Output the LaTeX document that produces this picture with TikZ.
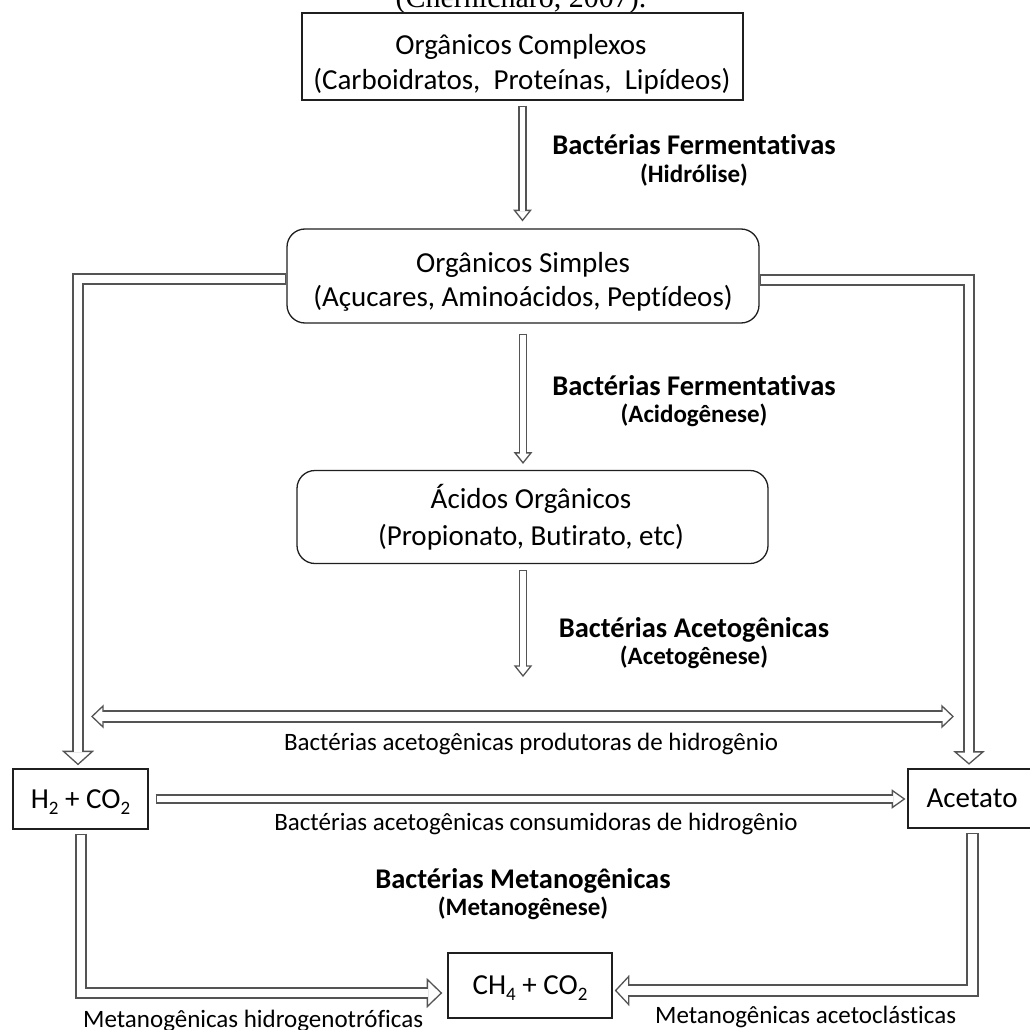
\documentclass[tikz,border=0pt]{standalone}
\usepackage{fontspec}
\setmainfont{Carlito}[Ligatures=NoCommon]
\newfontfamily\capfont{Liberation Serif}
\usetikzlibrary{calc}
\definecolor{ag}{gray}{0.33}
\definecolor{bx}{gray}{0.12}
\pgfdeclarelayer{bg}
\pgfsetlayers{bg,main}
\newcommand\sub[1]{\raisebox{-0.22em}{\fontsize{19}{19}\selectfont #1}}
\tikzset{
  aout/.style={draw=ag, line width=#1+1.3pt, line join=miter},
  ain/.style={draw=white, line width=#1-1.3pt, line join=miter},
  ahead/.style={draw=ag, fill=white, line width=1.3pt, line join=miter},
  box/.style={draw=bx, line width=1.3pt, inner sep=0pt, fill=white},
  rbox/.style={box, rounded corners=18pt},
  sbox/.style={box, font=\fontsize{29}{35}\selectfont, text height=18.7pt, text depth=0.5pt},
  btxt/.style={font=\fontsize{29}{35}\selectfont, anchor=base, inner sep=0pt},
  lbl/.style={font=\bfseries\fontsize{28.5}{30}\selectfont, anchor=base, inner sep=0pt},
  slbl/.style={font=\bfseries\fontsize{25}{28}\selectfont, anchor=base, inner sep=0pt},
  rlbl/.style={font=\fontsize{25}{28}\selectfont, anchor=base, inner sep=0pt},
}
\newcommand\arrD[6]{%
  \draw[aout=#4] (#1) #2 ($(#3)+(0,-#6)$);
  \draw[ahead] (#3) -- ++(-#5,-#6) -- ++({2*#5},0) -- cycle;
  \draw[ain=#4, shorten <=1.3pt, shorten >=-1pt] (#1) #2 ($(#3)+(0,-#6)$);
}
\newcommand\arrR[6]{%
  \draw[aout=#4] (#1) #2 ($(#3)+(-#6,0)$);
  \draw[ahead] (#3) -- ++(-#6,-#5) -- ++(0,{2*#5}) -- cycle;
  \draw[ain=#4, shorten <=1.3pt, shorten >=-1pt] (#1) #2 ($(#3)+(-#6,0)$);
}
\newcommand\arrL[6]{%
  \draw[aout=#4] (#1) #2 ($(#3)+(#6,0)$);
  \draw[ahead] (#3) -- ++(#6,-#5) -- ++(0,{2*#5}) -- cycle;
  \draw[ain=#4, shorten <=1.3pt, shorten >=-1pt] (#1) #2 ($(#3)+(#6,0)$);
}
\begin{document}
\begin{tikzpicture}[x=1pt,y=-1pt]
\useasboundingbox (0,0) rectangle (1030,1030);

% caption (cut off at the top)
\node[font=\capfont\fontsize{30}{32}\selectfont, anchor=base, inner sep=0pt] (cap) at (521,8) {(Chernicharo, 2007).};

% boxes
\node[box, minimum width=441pt, minimum height=87pt] (b1) at (522.5,56.5) {};
\node[btxt] (b1a) at (521,55) {Orgânicos Complexos};
\node[btxt] (b1b) at (522,90) {(Carboidratos,\ \ Proteínas,\ \ Lipídeos)};

\node[rbox, minimum width=472pt, minimum height=94pt] (b2) at (523,276) {};
\node[btxt] (b2a) at (523,272) {Orgânicos Simples};
\node[btxt] (b2b) at (523,306) {(Açucares, Aminoácidos,\ Peptídeos)};

\node[rbox, minimum width=471pt, minimum height=93pt] (b3) at (532.5,517) {};
\node[btxt] (b3a) at (531,508) {Ácidos Orgânicos};
\node[btxt] (b3b) at (531,545) {(Propionato, Butirato, etc)};

\node[sbox, minimum width=135pt, minimum height=60pt] (bh) at (80.5,799) {H\sub{2} + CO\sub{2}};
\node[sbox, minimum width=128pt, minimum height=59pt] (ba) at (972,798.5) {Acetato};
\node[sbox, minimum width=164pt, minimum height=65pt] (bc) at (530,985.5) {CH\sub{4} + CO\sub{2}};

% labels
\node[lbl] (l1a) at (694,154) {Bactérias Fermentativas};
\node[slbl] (l1b) at (694,182) {(Hidrólise)};
\node[lbl] (l2a) at (694,395) {Bactérias Fermentativas};
\node[slbl] (l2b) at (694,422) {(Acidogênese)};
\node[lbl] (l3a) at (694,637) {Bactérias Acetogênicas};
\node[slbl] (l3b) at (694,664) {(Acetogênese)};
\node[lbl] (l4a) at (523,888) {Bactérias Metanogênicas};
\node[slbl] (l4b) at (523,915) {(Metanogênese)};

\node[rlbl] (r1) at (531,750) {Bactérias acetogênicas produtoras de hidrogênio};
\node[rlbl] (r2) at (536,830) {Bactérias acetogênicas consumidoras de hidrogênio};
\node[rlbl, anchor=base west] (r3) at (83,1027) {Metanogênicas hidrogenotróficas};
\node[rlbl, anchor=base west] (r4) at (655,1023) {Metanogênicas acetoclásticas};

% coordinates for connectors
\coordinate (dl) at (92,716.5);
\coordinate (dr) at (953,716.5);
\coordinate (a1s) at ($(b1.south)+(0,5)$);
\coordinate (a1t) at ($(a1s |- b2.north)+(0,-8)$);
\coordinate (a2s) at ($(b2.south)+(0,10)$);
\coordinate (a2t) at ($(a2s |- b3.north)+(0,-7)$);
\coordinate (a3s) at ($(a2s |- b3.south)+(0,6)$);
\coordinate (a3t) at ($(a3s |- dl)+(0,-40.5)$);
\coordinate (lbs) at ($(b2.west)+(0,3)$);
\coordinate (lbt) at ($(bh.north)+(-2.5,-4)$);
\coordinate (rbs) at ($(b2.east)+(0,4)$);
\coordinate (rbt) at ($(ba.north)+(-3,-4.5)$);
\coordinate (cs) at ($(bh.east)+(7,0)$);
\coordinate (ct) at ($(cs -| ba.west)+(-3,0)$);
\coordinate (bls) at ($(bh.south)+(0.5,4)$);
\coordinate (blt) at ($(bc.west)+(-6,7.5)$);
\coordinate (brs) at ($(ba.south)+(0.5,4.5)$);
\coordinate (brt) at ($(bc.east)+(3,5)$);

\begin{pgfonlayer}{bg}
\arrD{a1s}{--}{a1t}{7pt}{8}{10}
\arrD{a2s}{--}{a2t}{7pt}{8}{10}
\arrD{a3s}{--}{a3t}{7pt}{8}{10}
\arrD{lbs}{-|}{lbt}{10pt}{14.5}{13}
\arrD{rbs}{-|}{rbt}{10pt}{14}{12}
\arrR{cs}{--}{ct}{8pt}{8.5}{12}
\arrR{bls}{|-}{blt}{10pt}{13.5}{14}
\arrL{brs}{|-}{brt}{11pt}{14}{13}
% double-headed arrow
\draw[aout=11pt] ($(dl)+(11,0)$) -- ($(dr)+(-11,0)$);
\draw[ahead] (dl) -- ++(11,-10.5) -- ++(0,21) -- cycle;
\draw[ahead] (dr) -- ++(-11,-10.5) -- ++(0,21) -- cycle;
\draw[ain=11pt, shorten <=-1pt, shorten >=-1pt] ($(dl)+(11,0)$) -- ($(dr)+(-11,0)$);
\end{pgfonlayer}
\end{tikzpicture}
\end{document}
